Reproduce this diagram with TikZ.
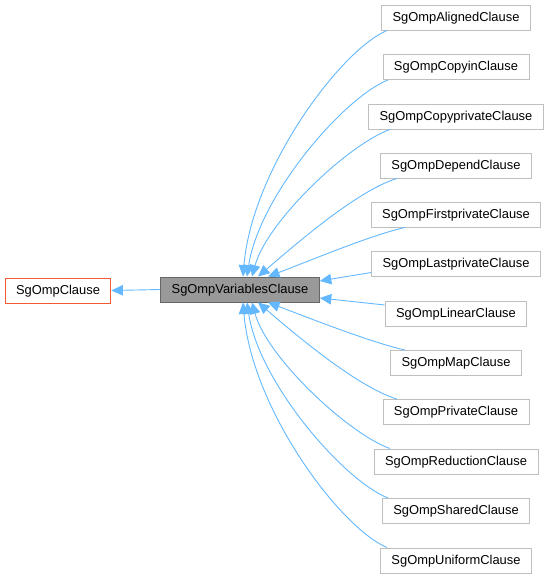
\documentclass[tikz,border=0pt]{standalone}
\usepackage{fontspec}
\setmainfont{Liberation Sans}
\usetikzlibrary{arrows.meta}
\definecolor{edgeblue}{HTML}{63B8FF}
\definecolor{boxgrey}{HTML}{BFBFBF}
\definecolor{darkfill}{HTML}{999999}
\definecolor{darkline}{HTML}{666666}
\definecolor{redline}{RGB}{242,90,50}
\tikzset{
  cls/.style={draw=boxgrey, fill=white, line width=0.9pt, minimum height=25pt, inner xsep=11pt, inner ysep=0pt,
    text height=9.6pt, text depth=2.4pt,
    font=\fontsize{12.9}{15}\selectfont, anchor=center},
  focus/.style={cls, draw=darkline, fill=darkfill},
  trunc/.style={cls, draw=redline},
  edge/.style={draw=edgeblue, line width=0.9pt, -{Triangle[length=11.5pt,width=10.5pt]}},
}
\begin{document}
\begin{tikzpicture}[x=1pt,y=-1pt]
\useasboundingbox (0,0) rectangle (551,579);
\node[trunc] (base) at (58,290.5) {SgOmpClause};
\node[focus] (v) at (240,289.5) {SgOmpVariablesClause};
\node[cls] (a1) at (456,17.5) {SgOmpAlignedClause};
\node[cls] (a2) at (456,67) {SgOmpCopyinClause};
\node[cls] (a3) at (456,116.5) {SgOmpCopyprivateClause};
\node[cls] (a4) at (456,165.5) {SgOmpDependClause};
\node[cls] (a5) at (456,214.5) {SgOmpFirstprivateClause};
\node[cls] (a6) at (456,264) {SgOmpLastprivateClause};
\node[cls] (a7) at (456,313.5) {SgOmpLinearClause};
\node[cls] (a8) at (456,363) {SgOmpMapClause};
\node[cls] (a9) at (456,412) {SgOmpPrivateClause};
\node[cls] (a10) at (456,461.5) {SgOmpReductionClause};
\node[cls] (a11) at (456,511) {SgOmpSharedClause};
\node[cls] (a12) at (456,560.5) {SgOmpUniformClause};

\draw[edge] (v.west) -- (base.east);

% upper group
\draw[edge] ([xshift=-69pt]a1.south) .. controls +(-47,20) and +(9,-107) .. ([xshift=3pt]v.north);
\draw[edge] ([xshift=-68pt]a2.south) .. controls +(-45,18) and +(12,-80) .. ([xshift=7pt]v.north);
\draw[edge] ([xshift=-66pt]a3.south) .. controls +(-42,15) and +(15,-55) .. ([xshift=12pt]v.north);
\draw[edge] ([xshift=-59pt]a4.south) .. controls +(-40,12) and +(35,-30) .. ([xshift=18pt]v.north);
\draw[edge] ([xshift=-51pt]a5.south) .. controls +(-35,8) and +(45,-17) .. ([xshift=28pt]v.north);
% middle
\draw[edge] ([yshift=-8.5pt]a6.west) -- ([yshift=8.5pt]v.east);
\draw[edge] ([yshift=8.5pt]a7.west) -- ([yshift=-8.5pt]v.east);
% lower group
\draw[edge] ([xshift=-51pt]a8.north) .. controls +(-35,-8) and +(45,17) .. ([xshift=28pt]v.south);
\draw[edge] ([xshift=-59pt]a9.north) .. controls +(-40,-12) and +(35,30) .. ([xshift=18pt]v.south);
\draw[edge] ([xshift=-66pt]a10.north) .. controls +(-42,-15) and +(15,55) .. ([xshift=12pt]v.south);
\draw[edge] ([xshift=-68pt]a11.north) .. controls +(-45,-18) and +(12,80) .. ([xshift=7pt]v.south);
\draw[edge] ([xshift=-69pt]a12.north) .. controls +(-47,-20) and +(9,107) .. ([xshift=3pt]v.south);
\end{tikzpicture}
\end{document}
